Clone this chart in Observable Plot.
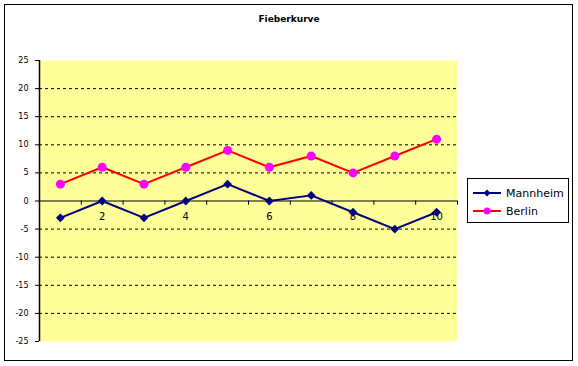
<!DOCTYPE html>
<html>
<head>
<meta charset="utf-8">
<script src="https://cdn.jsdelivr.net/npm/d3@7"></script>
<script src="https://cdn.jsdelivr.net/npm/@observablehq/plot@0.6"></script>
<style>
  html, body { margin: 0; padding: 0; background: #fff; }
  #wrap { position: relative; width: 578px; height: 366px; font-family: "DejaVu Sans", sans-serif; }
  #border { position: absolute; left: 4px; top: 4px; width: 567px; height: 355px; border: 1.5px solid #000; pointer-events: none; }
  #title { position: absolute; left: 0; width: 578px; top: 14px; text-align: center; font-size: 9px; font-weight: bold; color: #000; }
  #legend { position: absolute; left: 467px; top: 178px; width: 100px; height: 43px; border: 1px solid #000; background: #fff; font-size: 11px; }
  .item { position: absolute; left: 4px; height: 16px; display: flex; align-items: center; }
  .item svg { margin-right: 4px; }
  #plot { position: absolute; left: 0; top: 0; }
</style>
</head>
<body>
<div id="wrap">
  <div id="plot"></div>
  <div id="title">Fieberkurve</div>
  <div id="legend"></div>
  <div id="border"></div>
</div>
<script>
const categories = [1, 2, 3, 4, 5, 6, 7, 8, 9, 10];
const mannheim = [-3, 0, -3, 0, 3, 0, 1, -2, -5, -2];
const berlin = [3, 6, 3, 6, 9, 6, 8, 5, 8, 11];
const xTickLabels = [2, 4, 6, 8, 10];
const yTicks = [-25, -20, -15, -10, -5, 0, 5, 10, 15, 20, 25];
const seriesNames = ["Mannheim", "Berlin"];
const seriesColors = {Mannheim: "#000080", Berlin: "#FF0000"};
const markerFill = {Mannheim: "#000080", Berlin: "#FF00FF"};

const data = [];
categories.forEach((c, i) => {
  data.push({series: "Mannheim", x: c, y: mannheim[i]});
  data.push({series: "Berlin", x: c, y: berlin[i]});
});
const boundaries = categories.map(c => c + 0.5);
const gridValues = yTicks.filter(v => v !== 0 && Math.abs(v) !== 25);
const xDomain = [categories[0] - 0.5, categories[categories.length - 1] + 0.5];

const chart = Plot.plot({
  width: 578,
  height: 366,
  marginLeft: 39,
  marginRight: 121,
  marginTop: 60,
  marginBottom: 25,
  style: {background: "transparent", fontFamily: "DejaVu Sans, sans-serif", color: "#000"},
  x: {domain: xDomain, axis: null},
  y: {domain: [-25, 25], axis: null},
  marks: [
    Plot.frame({fill: "#FFFF99", stroke: null}),
    Plot.ruleY(gridValues, {stroke: "#000", strokeWidth: 1, strokeDasharray: "3,3"}),
    Plot.ruleY([0], {stroke: "#000", strokeWidth: 1}),
    Plot.ruleX(boundaries, {x: d => d, y1: 0, y2: -0.75, stroke: "#000", strokeWidth: 1}),
    Plot.ruleX([xDomain[0]], {stroke: "#000", strokeWidth: 1.5}),
    Plot.axisY({ticks: yTicks, label: null, tickSize: 4, tickPadding: 7, tickFormat: d => String(d), fontSize: 8, stroke: "#000", strokeWidth: 1}),
    Plot.text(xTickLabels, {x: d => d, y: 0, dy: 16, text: d => String(d), fontSize: 10, fill: "#000"}),
    Plot.line(data, {x: "x", y: "y", z: "series", stroke: d => seriesColors[d.series], strokeWidth: 2}),
    Plot.dot(data.filter(d => d.series === "Mannheim"), {x: "x", y: "y", symbol: "diamond2", r: 4, fill: markerFill.Mannheim, stroke: null}),
    Plot.dot(data.filter(d => d.series === "Berlin"), {x: "x", y: "y", symbol: "circle", r: 4.5, fill: markerFill.Berlin, stroke: null})
  ]
});
document.getElementById("plot").appendChild(chart);

const legend = document.getElementById("legend");
seriesNames.forEach((name, i) => {
  const item = document.createElement("div");
  item.className = "item";
  item.style.top = (6 + i * 18) + "px";
  const marker = name === "Mannheim"
    ? `<path d="M15,3.5 L18.5,7 L15,10.5 L11.5,7 Z" fill="${markerFill[name]}"/>`
    : `<circle cx="15" cy="7" r="3.5" fill="${markerFill[name]}"/>`;
  item.innerHTML = `<svg width="30" height="14"><line x1="1" x2="29" y1="7" y2="7" stroke="${seriesColors[name]}" stroke-width="2"/>${marker}</svg><span>${name}</span>`;
  legend.appendChild(item);
});
</script>
</body>
</html>
